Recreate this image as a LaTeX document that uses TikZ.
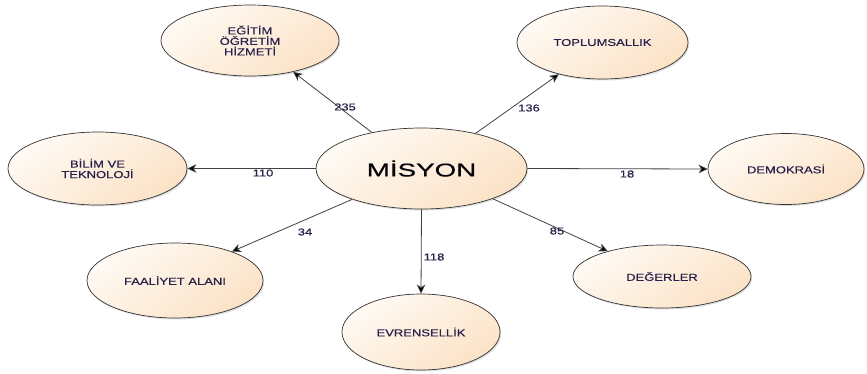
\documentclass[tikz,border=0pt]{standalone}
\usepackage{fontspec}
\setmainfont{Liberation Sans}[FakeStretch=1.3,FakeBold=0.4]
\newfontfamily\bigfont{Liberation Sans}[FakeStretch=1.5,FakeBold=0.6]
\usetikzlibrary{shapes.geometric,arrows.meta,shadows}
\definecolor{txt}{HTML}{28204A}
\definecolor{fillA}{HTML}{FFFAF4}
\definecolor{fillB}{HTML}{FBE2C6}
\definecolor{bord}{HTML}{333333}
\definecolor{lin}{HTML}{404040}
\tikzset{
  bub/.style={ellipse, draw=bord, line width=0.7pt, inner sep=0pt,
    top color=fillA, bottom color=fillB, shading angle=35,
    drop shadow={shadow xshift=1.2pt, shadow yshift=-1.5pt, opacity=0.25},
    text=txt, font=\fontsize{10}{10.5}\selectfont, align=center},
  lab/.style={text=txt, font=\fontsize{10}{10}\selectfont, inner sep=0pt},
  conn/.style={draw=lin, line width=0.8pt, -{Stealth[length=9pt,width=8.5pt,inset=2.5pt,fill=black]}}
}
\begin{document}
\begin{tikzpicture}[x=1pt,y=-1pt]
\useasboundingbox (0,0) rectangle (867,373);
\node[bub, minimum width=211pt, minimum height=81pt, text=black!85!txt, font=\bigfont\fontsize{18.5}{18.5}\selectfont] (mis) at (421.5,168.5) {MİSYON};
\node[bub, minimum width=178pt, minimum height=71pt] (egt) at (250,40.5) {EĞİTİM\\ÖĞRETİM\\HİZMETİ};
\node[bub, minimum width=171pt, minimum height=73pt] (top) at (602.5,42.5) {TOPLUMSALLIK};
\node[bub, minimum width=156pt, minimum height=71pt] (dem) at (786,169) {DEMOKRASİ};
\node[bub, minimum width=179pt, minimum height=73pt] (bil) at (97.5,168.5) {BİLİM VE\\TEKNOLOJİ};
\node[bub, minimum width=176pt, minimum height=75pt] (faa) at (175,280.5) {FAALİYET ALANI};
\node[bub, minimum width=158pt, minimum height=76pt] (evr) at (421,332) {EVRENSELLİK};
\node[bub, minimum width=178pt, minimum height=63pt] (deg) at (662,276.5) {DEĞERLER};

\draw[conn] (mis.144.4) -- (egt.-36.2);
\draw[conn] (mis.33.6) -- (top.216.4);
\draw[conn] (mis.180) -- (bil.0);
\draw[conn] (mis.0) -- (dem.180);
\draw[conn] (mis.204.4) -- (faa.27.3);
\draw[conn] (mis.270) -- (evr.90);
\draw[conn] (mis.-23.8) -- (deg.155.9);

\node[lab] (l235) at (345,107) {235};
\node[lab] (l136) at (529,108) {136};
\node[lab] (l110) at (263,173) {110};
\node[lab] (l18) at (627,174) {18};
\node[lab] (l34) at (305,232) {34};
\node[lab] (l118) at (434,257) {118};
\node[lab] (l85) at (557,231) {85};
\end{tikzpicture}
\end{document}
